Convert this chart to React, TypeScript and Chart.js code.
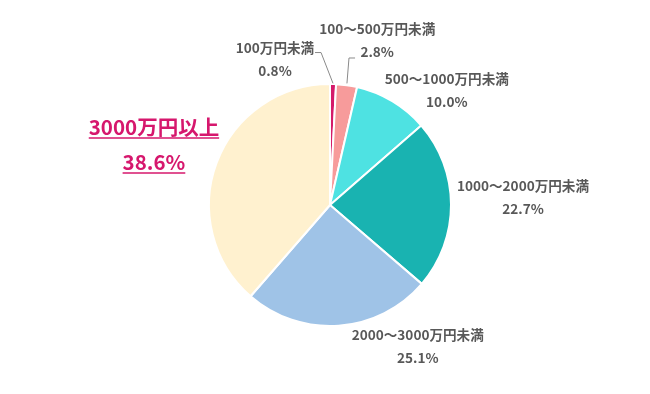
import React, { useEffect, useRef } from "react";
import { Chart, registerables } from "chart.js";

Chart.register(...registerables);

const categories = [
  "100万円未満",
  "100〜500万円未満",
  "500〜1000万円未満",
  "1000〜2000万円未満",
  "2000〜3000万円未満",
  "3000万円以上",
];
const shares = [0.8, 2.8, 10.0, 22.7, 25.1, 38.6];
const sliceColors = ["#d41a6a", "#f79b9b", "#4ee2e2", "#19b3b1", "#9fc3e7", "#fff1cf"];

// label anchor offsets, in units of pie radius, from pie centre
const labelOffsets: [number, number][] = [
  [-0.455, -1.205],
  [0.39, -1.365],
  [0.965, -0.95],
  [1.595, -0.06],
  [0.725, 1.17],
  [-1.455, -0.5],
];
// leader lines (radius units) for small slices
const leaders: Record<number, [number, number][]> = {
  0: [[0.025, -1.005], [-0.074, -1.26], [-0.124, -1.26]],
  1: [[0.14, -1.005], [0.157, -1.215], [0.207, -1.215]],
};

const labelPlugin = {
  id: "pieLabels",
  afterDatasetsDraw(chart: any) {
    const meta = chart.getDatasetMeta(0);
    const ctx = chart.ctx as CanvasRenderingContext2D;
    const arc0 = meta.data[0] as any;
    const cx = arc0.x;
    const cy = arc0.y;
    const r = arc0.outerRadius;
    ctx.save();
    ctx.strokeStyle = "#8a8a8a";
    ctx.lineWidth = 1;
    Object.keys(leaders).forEach((k) => {
      const pts = leaders[Number(k)];
      ctx.beginPath();
      pts.forEach(([dx, dy], i) => {
        const x = cx + dx * r;
        const y = cy + dy * r;
        if (i === 0) ctx.moveTo(x, y);
        else ctx.lineTo(x, y);
      });
      ctx.stroke();
    });
    ctx.textAlign = "center";
    ctx.textBaseline = "middle";
    categories.forEach((name, i) => {
      const [ox, oy] = labelOffsets[i];
      const x = cx + ox * r;
      const y = cy + oy * r;
      const pct = shares[i].toFixed(1) + "%";
      const big = i === categories.length - 1;
      if (big) {
        ctx.fillStyle = "#d6176d";
        ctx.strokeStyle = "#d6176d";
        ctx.font = '600 20.5px "Noto Sans CJK JP", "Noto Sans", sans-serif';
        const lines = [name, pct];
        lines.forEach((t, j) => {
          const ty = y + (j === 0 ? -17.5 : 17.5);
          ctx.fillText(t, x, ty);
          const w = ctx.measureText(t).width;
          ctx.lineWidth = 1.5;
          ctx.beginPath();
          ctx.moveTo(x - w / 2, ty + 11);
          ctx.lineTo(x + w / 2, ty + 11);
          ctx.stroke();
        });
      } else {
        ctx.fillStyle = "#585858";
        ctx.font = 'bold 13.6px "Noto Sans CJK JP", "Noto Sans", sans-serif';
        ctx.fillText(name, x, y - 11.5);
        ctx.fillText(pct, x, y + 11.5);
      }
    });
    ctx.restore();
  },
};

export default function App() {
  const ref = useRef<HTMLCanvasElement | null>(null);
  useEffect(() => {
    if (!ref.current) return;
    const chart = new Chart(ref.current, {
      type: "pie",
      data: {
        labels: categories,
        datasets: [
          {
            data: shares,
            backgroundColor: sliceColors,
            borderColor: "#ffffff",
            borderWidth: 2,
          },
        ],
      },
      options: {
        responsive: false,
        animation: false,
        layout: { padding: { left: 10, right: 0, top: 83, bottom: 67 } },
        plugins: {
          legend: { display: false },
          tooltip: { enabled: false },
        },
      },
      plugins: [labelPlugin],
    });
    return () => chart.destroy();
  }, []);
  return (
    <div style={{ position: "absolute", left: 0, top: 0, width: 650, height: 394, background: "#fff" }}>
      <canvas ref={ref} width={650} height={394} />
    </div>
  );
}
